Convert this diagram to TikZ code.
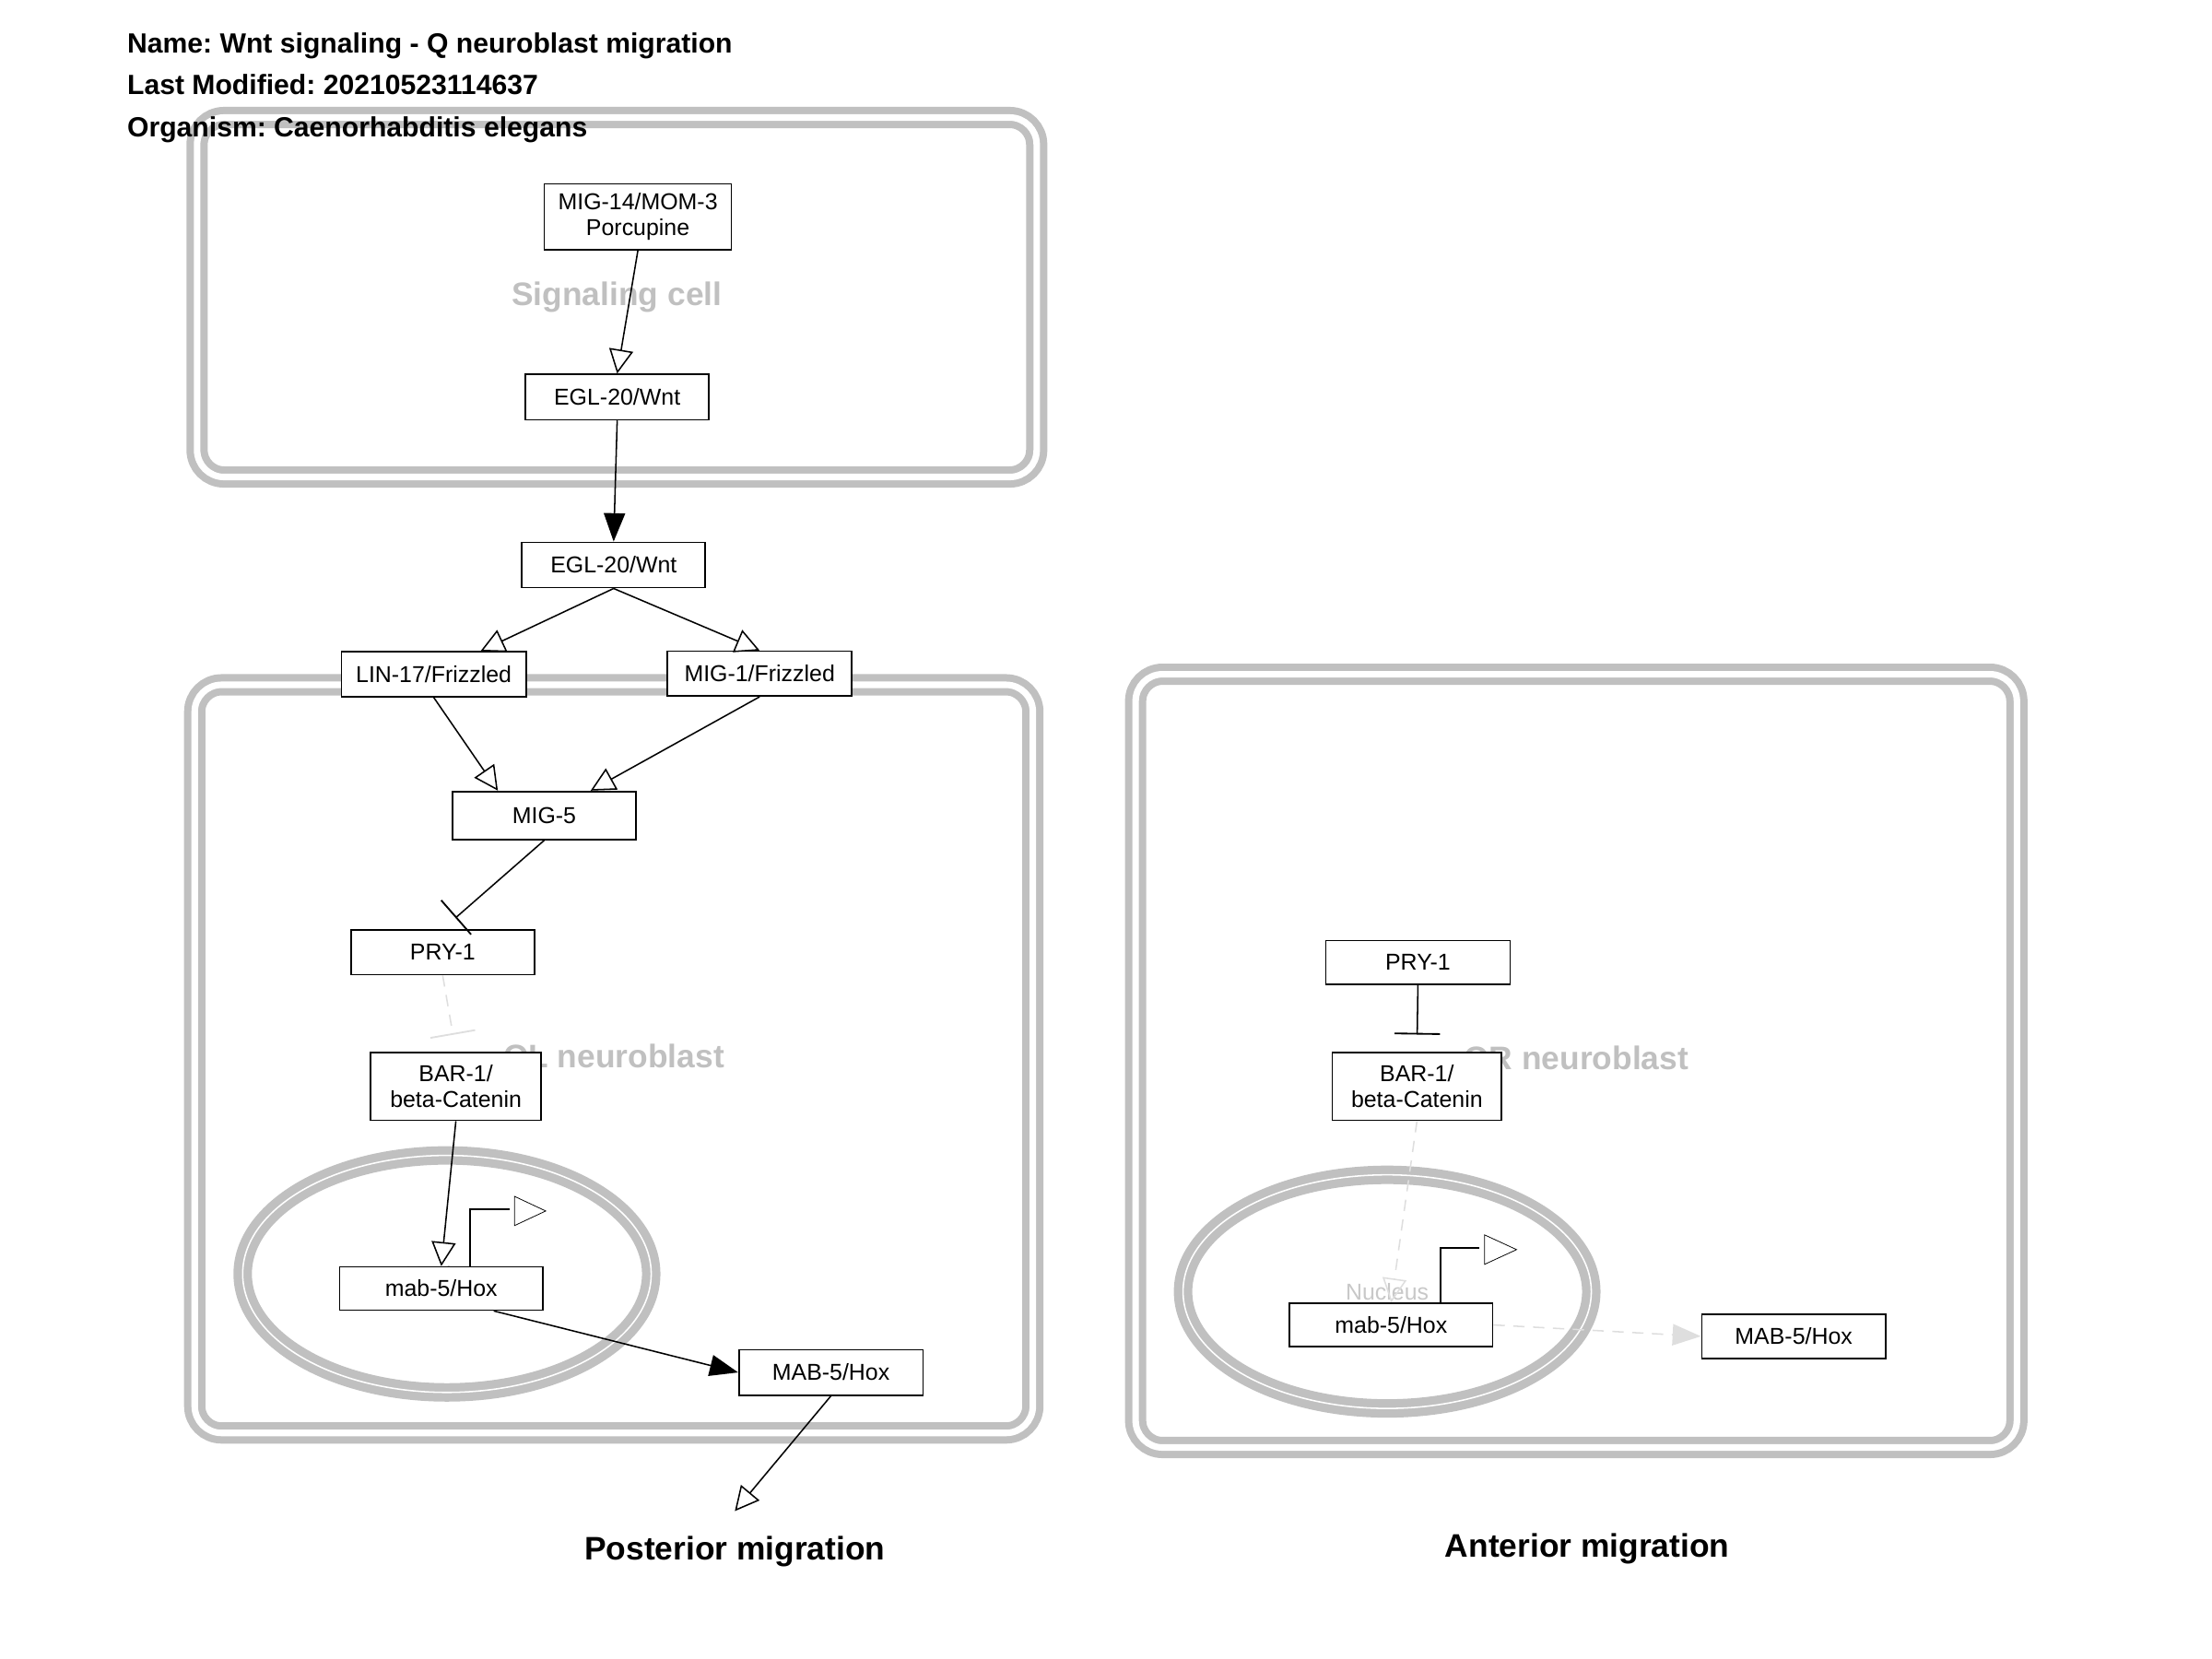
\documentclass[tikz,border=0pt]{standalone}
\usepackage{fontspec}
\setmainfont{Liberation Sans}
\usepackage{xcolor}
\usepackage{tikz}
\usetikzlibrary{arrows.meta}
\usetikzlibrary{shapes.geometric}
\usetikzlibrary{calc}
\frenchspacing

\definecolor{cellgray}{RGB}{192,192,192}
\definecolor{faintgray}{RGB}{222,222,222}
\definecolor{nucgray}{RGB}{200,200,200}

\tikzset{
    cell/.style={draw=cellgray,line width=5.2pt,double=white,double distance=4.6pt,rounded corners=19pt,inner sep=0pt,text=cellgray,font=\fontsize{23}{26}\selectfont\bfseries},
    nucleus/.style={ellipse,draw=cellgray,line width=6pt,double=white,double distance=1pt,inner sep=0pt,text=nucgray,font=\fontsize{16.2}{18}\selectfont},
    gene/.style={draw=black,fill=white,line width=1.1pt,inner sep=0pt,align=center,font=\fontsize{16.2}{18}\selectfont},
    act/.style={line width=1pt,-{Triangle[open,length=17pt,width=17pt]}},
    conv/.style={line width=1pt,-{Triangle[length=20pt,width=15pt]}},
    inh/.style={line width=1pt,-{Bar[width=32pt,line width=1.2pt]},shorten >=12pt},
    faint/.style={draw=faintgray,dash pattern=on 8pt off 6pt},
    tss/.style={line width=1.1pt},
    tsshead/.style={line width=0.5pt},
    title/.style={anchor=base west,inner sep=0pt,font=\fontsize{19.6}{22}\selectfont\bfseries},
    migr/.style={inner sep=0pt,font=\fontsize{23}{26}\selectfont\bfseries}
}

\begin{document}
\begin{tikzpicture}[x=1pt,y=-1pt]
            \useasboundingbox (0,0) rectangle (1560.5,1170.3);
            % cells and nuclei
            \node[cell,minimum width=592.3pt,minimum height=253.6pt] (sigcell) at (435.2,209.7) {Signaling cell};
            \node[cell,minimum width=591.3pt,minimum height=527.8pt] (qlcell) at (433,747) {QL neuroblast};
            \node[cell,minimum width=621.7pt,minimum height=545.5pt] (qrcell) at (1112,748.4) {QR neuroblast};
            \node[nucleus,minimum width=288.2pt,minimum height=167.2pt] (nucl) at (315.3,898.7) {Nucleus};
            \node[nucleus,minimum width=288pt,minimum height=164.8pt] (nucr) at (978.6,911.2) {Nucleus};
            % header
            \node[title] (tname) at (89.6,37.5) {Name: Wnt signaling - Q neuroblast migration};
            \node[title] (tmod) at (89.6,66.5) {Last Modified: 20210523114637};
            \node[title] (torg) at (89.6,96.4) {Organism: Caenorhabditis elegans};
            % left: QL
            \node[gene,minimum width=132pt,minimum height=46.4pt] (porc) at (450,153) {MIG-14/MOM-3\\Porcupine};
            \node[gene,minimum width=129.4pt,minimum height=32pt] (eglin) at (435.4,280.1) {EGL-20/Wnt};
            \node[gene,minimum width=129.4pt,minimum height=32pt] (eglout) at (432.9,398.6) {EGL-20/Wnt};
            \node[gene,minimum width=130.4pt,minimum height=31.6pt] (lin17) at (306,475.7) {LIN-17/Frizzled};
            \node[gene,minimum width=130pt,minimum height=31.6pt] (mig1) at (535.9,475.2) {MIG-1/Frizzled};
            \node[gene,minimum width=129.4pt,minimum height=34pt] (mig5) at (383.9,575.3) {MIG-5};
            \node[gene,minimum width=129.4pt,minimum height=31.6pt] (pry1) at (312.3,671.8) {PRY-1};
            \node[gene,minimum width=120pt,minimum height=48pt] (bar1) at (321.6,766.4) {BAR-1/\\beta-Catenin};
            \node[gene,minimum width=143.5pt,minimum height=30.5pt] (mab5) at (311.3,909) {mab-5/Hox};
            \node[gene,minimum width=129.8pt,minimum height=32pt] (mab5p) at (586.2,968.2) {MAB-5/Hox};
            % right: QR
            \node[gene,minimum width=130pt,minimum height=31pt] (pry1r) at (1000.3,679) {PRY-1};
            \node[gene,minimum width=119.5pt,minimum height=48pt] (bar1r) at (999.6,766.4) {BAR-1/\\beta-Catenin};
            \node[gene,minimum width=143.3pt,minimum height=30.6pt] (mab5r) at (981.4,934.7) {mab-5/Hox};
            \node[gene,minimum width=129.8pt,minimum height=31.4pt] (mab5pr) at (1265.4,942.7) {MAB-5/Hox};
            \node[migr] (post) at (518.4,1094.7) {Posterior migration};
            \node[migr] (ant) at (1119.8,1092.5) {Anterior migration};
            % interactions
            \draw[act] (porc.south) -- (eglin.north);
            \draw[conv] (eglin.south) -- (eglout.north);
            \draw[act] (eglout.south) -- ($(lin17.north)+(33,0)$);
            \draw[act] (eglout.south) -- (mig1.north);
            \draw[act] (lin17.south) -- ($(mig5.north)+(-32.7,0)$);
            \draw[act] (mig1.south) -- ($(mig5.north)+(32.8,0)$);
            \draw[inh] (mig5.south) -- (pry1.north);
            \draw[inh,faint] (pry1.south) -- (bar1.north);
            \draw[act] (bar1.south) -- (mab5.north);
            \draw[conv] ($(mab5.south)+(37,0)$) -- (mab5p.west);
            \draw[act] (mab5p.south) -- ($(post.north)+(0,-17.7)$);
            \draw[inh] (pry1r.south) -- (bar1r.north);
            \draw[act,faint] (bar1r.south) -- (mab5r.north);
            \draw[conv,faint] (mab5r.east) -- (mab5pr.west);
            % transcription marks
            \draw[tss] ($(mab5.north)+(20.3,0)$) |- ++(28.2,-40.1) coordinate (tssl);
            \draw[tsshead] ($(tssl)+(3.2,-9.1)$) -- ++(22,10.3) -- ++(-22,10.3) -- cycle;
            \draw[tss] ($(mab5r.north)+(34.8,0)$) |- ++(27.6,-38.4) coordinate (tssr);
            \draw[tsshead] ($(tssr)+(3.5,-9.3)$) -- ++(22.6,10.4) -- ++(-22.6,10.4) -- cycle;
\end{tikzpicture}
\end{document}
